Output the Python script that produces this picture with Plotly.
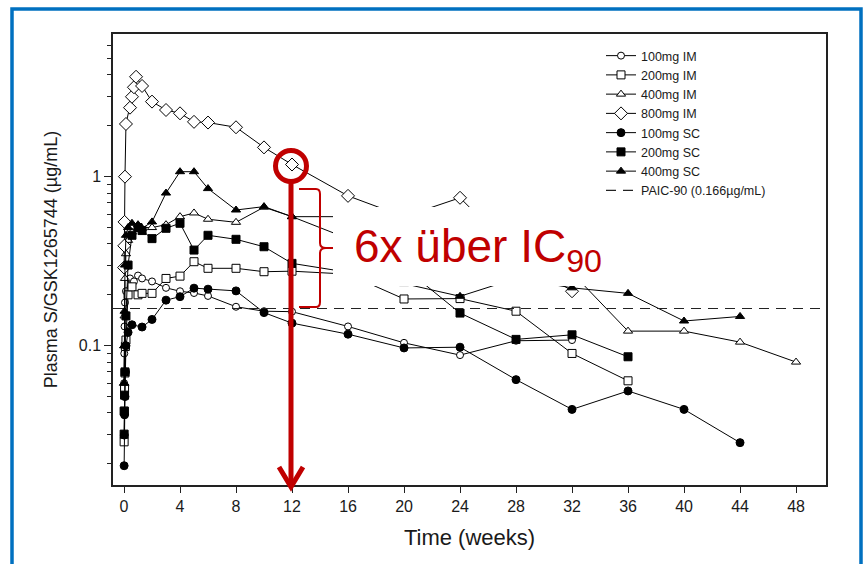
import plotly.graph_objects as go

# ---------------- data (weeks, µg/mL) ----------------
t_100_im = [0.01, 0.02, 0.04, 0.07, 0.14, 0.43, 0.71, 1.0, 1.29, 2, 3, 4, 5, 6, 8, 10, 12, 16, 20, 24, 28, 32]
v_100_im = [0.06, 0.09, 0.13, 0.18, 0.21, 0.25, 0.24, 0.26, 0.25, 0.24, 0.22, 0.21, 0.205, 0.197, 0.17, 0.16, 0.159, 0.13, 0.104, 0.088, 0.107, 0.108]

t_200_im = [0.01, 0.02, 0.04, 0.07, 0.1, 0.14, 0.29, 0.57, 1.0, 1.29, 2, 3, 4, 5, 6, 8, 10, 12, 16, 20, 24, 28, 32, 36]
v_200_im = [0.027, 0.041, 0.056, 0.069, 0.099, 0.108, 0.2, 0.223, 0.2, 0.204, 0.204, 0.25, 0.258, 0.314, 0.287, 0.287, 0.274, 0.276, 0.265, 0.189, 0.19, 0.16, 0.09, 0.062]

t_400_im = [0.01, 0.02, 0.04, 0.07, 0.14, 0.29, 0.57, 1.0, 2, 3, 4, 5, 6, 8, 10, 12, 16, 20, 24, 28, 32, 36, 40, 44, 48]
v_400_im = [0.06, 0.1, 0.15, 0.25, 0.35, 0.42, 0.47, 0.5, 0.5, 0.52, 0.58, 0.61, 0.56, 0.537, 0.66, 0.58, 0.58, 0.45, 0.35, 0.3, 0.27, 0.122, 0.122, 0.105, 0.08]

t_800_im = [0.01, 0.02, 0.04, 0.07, 0.14, 0.43, 0.57, 0.71, 0.86, 1.29, 2, 3, 4, 5, 6, 8, 10, 12, 16, 20, 24, 28, 32]
v_800_im = [0.29, 0.39, 0.54, 1.0, 2.05, 2.56, 2.97, 3.38, 3.9, 3.44, 2.78, 2.48, 2.37, 2.11, 2.09, 1.96, 1.49, 1.18, 0.77, 0.58, 0.75, 0.35, 0.21]

t_100_sc = [0.01, 0.02, 0.04, 0.07, 0.1, 0.14, 0.29, 0.57, 1.29, 2, 3, 4, 5, 6, 8, 10, 12, 16, 20, 24, 28, 32, 36, 40, 44]
v_100_sc = [0.0195, 0.0296, 0.039, 0.05, 0.07, 0.1, 0.12, 0.133, 0.129, 0.143, 0.186, 0.195, 0.219, 0.216, 0.211, 0.157, 0.136, 0.117, 0.097, 0.098, 0.063, 0.042, 0.054, 0.042, 0.0267]

t_200_sc = [0.01, 0.02, 0.04, 0.07, 0.14, 0.29, 0.57, 1.0, 1.29, 2, 3, 4, 5, 6, 8, 10, 12, 16, 20, 24, 28, 32, 36]
v_200_sc = [0.03, 0.041, 0.051, 0.07, 0.15, 0.3, 0.45, 0.5, 0.48, 0.43, 0.495, 0.53, 0.368, 0.45, 0.426, 0.385, 0.307, 0.272, 0.29, 0.156, 0.109, 0.116, 0.086]

t_400_sc = [0.01, 0.02, 0.04, 0.07, 0.14, 0.29, 0.57, 1.0, 1.29, 2, 3, 4, 5, 6, 8, 10, 12, 16, 20, 24, 28, 32, 36, 40, 44]
v_400_sc = [0.06, 0.1, 0.16, 0.3, 0.45, 0.5, 0.53, 0.52, 0.495, 0.54, 0.8, 1.07, 1.07, 0.85, 0.635, 0.665, 0.58, 0.43, 0.233, 0.196, 0.25, 0.22, 0.204, 0.14, 0.149]

paic90 = 0.166
x_ticks = [0, 4, 8, 12, 16, 20, 24, 28, 32, 36, 40, 44, 48]
y_ticks = [0.1, 1]
y_tick_text = ["0.1", "1"]
y_minor = [0.02, 0.03, 0.04, 0.05, 0.06, 0.07, 0.08, 0.09,
           0.2, 0.3, 0.4, 0.5, 0.6, 0.7, 0.8, 0.9, 2, 3, 4, 5, 6]

series = [
    ("100mg IM", t_100_im, v_100_im, "circle", "white", 7),
    ("200mg IM", t_200_im, v_200_im, "square", "white", 8),
    ("400mg IM", t_400_im, v_400_im, "triangle-up", "white", 8),
    ("800mg IM", t_800_im, v_800_im, "diamond", "white", 10),
    ("100mg SC", t_100_sc, v_100_sc, "circle", "black", 8),
    ("200mg SC", t_200_sc, v_200_sc, "square", "black", 8),
    ("400mg SC", t_400_sc, v_400_sc, "triangle-up", "black", 8),
]

# ---------------- layout geometry ----------------
W, H = 866, 564
L, R, T, B = 113, 826, 34, 485
X_RANGE = [-0.786, 50.14]
Y_RANGE = [-1.824, 0.844]
RED = "#C00000"
BLUE = "#0070C0"
FONT = "Liberation Sans, Arial, sans-serif"


def px(x):
    return (x - L) / (R - L)


def py(y):
    return (B - y) / (B - T)


fig = go.Figure()
for name, t, v, sym, fill, size in series:
    fig.add_trace(go.Scatter(
        x=t, y=v, name=name, mode="lines+markers",
        line=dict(color="black", width=1),
        marker=dict(symbol=sym, size=size, color=fill, line=dict(color="black", width=1)),
    ))

fig.add_trace(go.Scatter(
    x=X_RANGE, y=[paic90, paic90], name="PAIC-90 (0.166µg/mL)", mode="lines",
    line=dict(color="#222", width=1.2, dash="10px,7px"),
))

shapes = [
    # blue slide frame
    dict(type="rect", xref="paper", yref="paper", x0=px(12), x1=px(861), y0=py(600), y1=py(9),
         line=dict(color=BLUE, width=3.5), layer="below"),
    # white text-box background
    dict(type="rect", xref="paper", yref="paper", x0=px(333), x1=px(620), y0=py(286), y1=py(207),
         fillcolor="white", line=dict(width=0), layer="above"),
    # red circle at 12 weeks
    dict(type="circle", xref="paper", yref="paper", x0=px(291 - 15.5), x1=px(291 + 15.5),
         y0=py(166 + 15.5), y1=py(166 - 15.5), line=dict(color=RED, width=5), layer="above"),
    # red vertical arrow shaft
    dict(type="line", xref="paper", yref="paper", x0=px(291), x1=px(291), y0=py(182), y1=py(484),
         line=dict(color=RED, width=5), layer="above"),
    # arrow head
    dict(type="path", xref="paper", yref="paper",
         path=f"M {px(279)},{py(467)} L {px(291)},{py(487)} L {px(303)},{py(467)}",
         line=dict(color=RED, width=5), layer="above"),
    # curly brace
    dict(type="path", xref="paper", yref="paper",
         path=(f"M {px(299)},{py(189)} L {px(316)},{py(189)} Q {px(320)},{py(189)} {px(320)},{py(194)} "
               f"L {px(320)},{py(243)} Q {px(320)},{py(248)} {px(326)},{py(248)} L {px(333)},{py(248)} "
               f"M {px(326)},{py(248)} Q {px(320)},{py(248)} {px(320)},{py(253)} "
               f"L {px(320)},{py(302)} Q {px(320)},{py(307)} {px(316)},{py(307)} L {px(299)},{py(307)}"),
         line=dict(color=RED, width=2), layer="above"),
]

fig.update_layout(
    width=W, height=H,
    margin=dict(l=L, r=W - R, t=T, b=H - B),
    paper_bgcolor="white", plot_bgcolor="white",
    font=dict(family=FONT, color="#1a1a1a", size=16),
    showlegend=True,
    legend=dict(x=px(601), y=py(41), xanchor="left", yanchor="top",
                bgcolor="rgba(0,0,0,0)", font=dict(size=12.5, family=FONT)),
    shapes=shapes,
    annotations=[dict(xref="paper", yref="paper", x=px(352), y=py(250), xanchor="left", yanchor="middle",
                      text="6x über IC<sub>90</sub>", showarrow=False,
                      font=dict(size=46, color=RED, family=FONT))],
)

fig.update_xaxes(
    range=X_RANGE, tickvals=x_ticks, ticks="outside", ticklen=6, tickcolor="#222",
    showline=True, linecolor="#222", linewidth=1.5, mirror=True, showgrid=False, zeroline=False,
    title=dict(text="Time (weeks)", font=dict(size=22), standoff=16),
)
fig.update_yaxes(
    type="log", range=Y_RANGE, tickvals=y_ticks, ticktext=y_tick_text,
    ticks="outside", ticklen=7, tickcolor="#222",
    minor=dict(tickvals=y_minor, ticks="outside", ticklen=4, tickcolor="#222"),
    showline=True, linecolor="#222", linewidth=1.5, mirror=True, showgrid=False, zeroline=False,
    title=dict(text="Plasma S/GSK1265744 (µg/mL)", font=dict(size=18), standoff=16),
)

fig.write_html("out.html", config={"displayModeBar": False},
               post_script="document.body.style.margin='0';document.body.style.overflow='hidden';")
